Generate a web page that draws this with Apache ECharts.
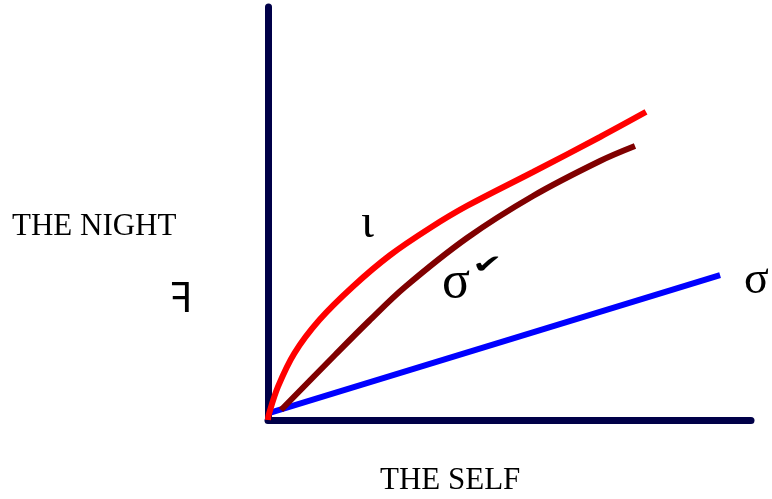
<!DOCTYPE html>
<html>
<head>
<meta charset="utf-8">
<script src="https://cdn.jsdelivr.net/npm/echarts@6/dist/echarts.min.js"></script>
<style>
  html, body { margin: 0; padding: 0; background: #fff; }
  #chart { width: 772px; height: 499px; }
</style>
</head>
<body>
<div id="chart"></div>
<script>
// curves, axes run 0..100 both ways
var redCurve = [[0, 0], [0.14, 1.21], [2.07, 8.06], [5.45, 16.15], [10.62, 24.21], [17.54, 32.28],
    [25.32, 39.95], [33.54, 46.49], [41.2, 51.82], [54.87, 60.05], [68.74, 68.52], [78.26, 74.58]];
var darkRedCurve = [[2.69, 2.42], [13.87, 15.74], [20.91, 23.97], [28.36, 32.2],
    [41.2, 44.07], [54.87, 54.24], [68.74, 62.71], [75.98, 66.34]];
var blueLine = [[0.5, 1.8], [93.6, 35.1]];

var xTitle = 'THE SELF';
var yTitle = 'THE NIGHT';

var serif = '"Liberation Serif", "Times New Roman", serif';

var myChart = echarts.init(document.getElementById('chart'));
var option = {
    animation: false,
    grid: { left: 268, right: 21, top: 7, bottom: 79 },
    xAxis: {
        type: 'value', min: 0, max: 100,
        axisLine: { lineStyle: { color: '#000048', width: 7 } },
        axisTick: { show: false }, axisLabel: { show: false }, splitLine: { show: false }
    },
    yAxis: {
        type: 'value', min: 0, max: 100,
        axisLine: { show: true, lineStyle: { color: '#000048', width: 7 } },
        axisTick: { show: false }, axisLabel: { show: false }, splitLine: { show: false }
    },
    series: [
        {
            type: 'line', data: blueLine, showSymbol: false,
            lineStyle: { color: '#0000ff', width: 6, cap: 'butt' }
        },
        {
            type: 'line', data: darkRedCurve, smooth: 0.35, showSymbol: false,
            lineStyle: { color: '#800000', width: 6, cap: 'butt' }
        },
        {
            type: 'line', data: redCurve, smooth: 0.35, showSymbol: false,
            lineStyle: { color: '#ff0000', width: 6, cap: 'butt' }
        }
    ],
    graphic: [
        { type: 'text', left: 12, top: 211, style: { text: yTitle, font: '31px ' + serif, fill: '#000' } },
        { type: 'text', left: 380, top: 465, style: { text: xTitle, font: '31px ' + serif, fill: '#000' } },
        { type: 'text', left: 171, top: 279, style: { text: 'ꟻ', font: '42px "Noto Sans", "DejaVu Sans"', fill: '#000' } },
        { type: 'text', left: 361, top: 200, style: { text: 'ι', font: '48px ' + serif, fill: '#000' } },
        { type: 'text', left: 442, top: 257, style: { text: 'σ', font: '52px ' + serif, fill: '#000' } },
        { type: 'text', left: 472, top: 253, scaleX: 1.4, style: { text: '✔', font: '26px "DejaVu Sans"', fill: '#000' } },
        { type: 'text', left: 744, top: 258, style: { text: 'σ', font: '46px ' + serif, fill: '#000' } }
    ]
};
myChart.setOption(option);
</script>
</body>
</html>
